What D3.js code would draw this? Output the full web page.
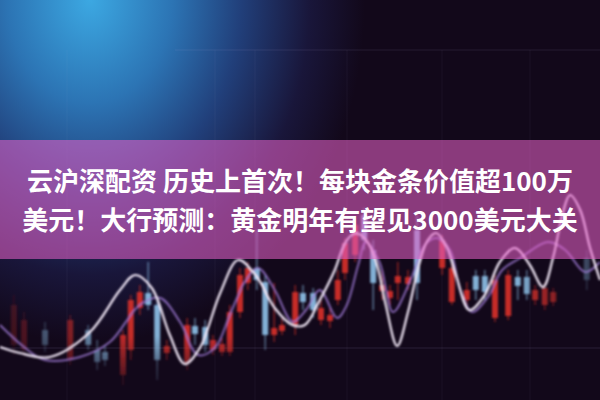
<!DOCTYPE html>
<html><head><meta charset="utf-8">
<script src="https://cdn.jsdelivr.net/npm/d3@7"></script>
<style>html,body{margin:0;padding:0;background:#14091a;}svg{display:block}</style>
</head><body>
<svg id="c" width="600" height="400"></svg>
<script>
// ---- data ----
const titleLines = ["云沪深配资 历史上首次！每块金条价值超100万", "美元！大行预测：黄金明年有望见3000美元大关"];
const candleT = [2.3,4.0,7.5,11.7,14.7,16.2,17.5,20.5,21.8,23.3,24.7,26.2,27.8,31.2,32.5,34.2,35.5,37,38.3,40,41.3,42.8,44.2,45.7,47,49.2,50.5,52.2,53.5,55,56.3,57.5,59.2,60.7,62.2,63.7,65,66.3,68,69.5,73.7,75.3,77.8,79.3,80.8,82.5,84.7,86.3,87.8,89.2,90.8,92.2,97.8];
const candleOpen = [27.5,25,35,20,35,25,24,12.5,25,46,53.5,47.5,23.5,18.5,37,36.5,25,24,24,44,58.5,66,59,32.5,34.5,37.5,53.5,53.5,40,39.5,50,63.5,72.5,92.5,75,54.5,51,58.5,58,85,66,49,50,62,62,41,42,61.5,61.5,50,47.5,49,71];
const candleClose = [47.5,40,27.5,40,27.5,19,20,32.5,50,54,47.5,20,27,37.5,33,27.5,30,28,44,62.5,66,60,32.5,36,37.5,54,49,45,46,42.5,60,78.5,87.5,80,58.5,57.5,54.5,62,61.5,58.5,80,66,55,55,54,60,62.5,57,53,55,56,54,60];
const candleHigh = [52.5,44,39,42.5,37.5,30,27.5,35,52.5,57.5,69,50,30,41,41,40,32.5,31,47.5,66,69,85,62.5,58.5,41,57.5,57.5,56,50,46,65,81,91,96,80,65,57.5,69,65,92.5,82.5,70,59,65,65,62.5,65,65,65,57.5,58.5,56,75];
const candleLow = [22.5,22,24,17.5,25,15,17,7.5,20,42.5,45,10,20,15,27.5,24,22.5,22,22,41,55,55,25,29,32.5,32.5,45,41,37.5,36,47.5,60,69,75,45,50,47.5,50,55,50,62.5,47.5,47.5,50,50,39,40,50,50,47.5,45,47,55];
const whiteT = [0,3.3,8.3,15,20,22.5,25.3,28.3,30.8,33.3,36.7,39.7,42.7,45.8,48.7,50.8,53.3,55.8,57.5,59.2,61,62.7,64.3,66.2,68,69.7,71.3,72.7,74.3,76,78.2,80.8,83.3,85.8,88.3,90.5,92.2,93.8,95,96.7,98.3,100];
const whiteV = [26.5,23.5,21.5,34,55,62.5,56,32.5,18,26,53.5,70,62,46,37.5,37.5,50,65,78.5,83.5,80,69,47.5,27,44,66,80,83.5,77.5,62.5,45,52.5,69,76,67.5,56.5,71.5,93.5,102.5,95,76.5,60];
const purpleT = [0,4.2,7.5,13.3,18.3,23.3,26.7,30,33,35.8,38.3,40.8,43,45.8,48.8,51,53.3,56.2,57.8,59.7,61,63.3,65.5,68.3,70.8,72.8,75,76.7,78.7,81.2,83.7,86.7,91.3,94.2,97.5,100];
const purpleV = [37.5,26,20,21.5,29,47.5,51,39,22.5,26,42.5,59,66,55,39,45,55,41,47.5,67.5,79,68.5,44,59,77.5,81,75,55,44,51,65,71,79,75,64,69];

// ---- setup ----
const W = 600, H = 400;
const svg = d3.select("#c");
const x = d3.scaleLinear().domain([0, 100]).range([0, W]);
const y = d3.scaleLinear().domain([0, 100]).range([400, 200]);
const defs = svg.append("defs");

const rg = defs.append("radialGradient").attr("id","bgBlue").attr("gradientUnits","userSpaceOnUse")
  .attr("cx",90).attr("cy",0).attr("r",275).attr("gradientTransform","translate(90,0) scale(1,1.25) translate(-90,0)");
[[0,"#3ca8e2"],[0.3,"#2c74b4"],[0.55,"#213f7a"],[0.8,"#19163a"],[1,"#12081a"]].forEach(s=>rg.append("stop").attr("offset",s[0]).attr("stop-color",s[1]));

const fadeH = defs.append("linearGradient").attr("id","fadeH").attr("x1",0).attr("x2",1).attr("y1",0).attr("y2",0);
[[0,"#2a2a2a"],[0.22,"#ffffff"],[0.86,"#ffffff"],[1,"#404040"]].forEach(s=>fadeH.append("stop").attr("offset",s[0]).attr("stop-color",s[1]));
const fadeV = defs.append("linearGradient").attr("id","fadeV").attr("x1",0).attr("x2",0).attr("y1",0).attr("y2",1);
[[0,"#ffffff"],[0.84,"#ffffff"],[0.95,"#555555"],[1,"#333333"]].forEach(s=>fadeV.append("stop").attr("offset",s[0]).attr("stop-color",s[1]));
defs.append("mask").attr("id","mH").attr("maskUnits","userSpaceOnUse").attr("x",0).attr("y",0).attr("width",W).attr("height",H)
  .append("rect").attr("width",W).attr("height",H).attr("fill","url(#fadeH)");
defs.append("mask").attr("id","mV").attr("maskUnits","userSpaceOnUse").attr("x",0).attr("y",0).attr("width",W).attr("height",H)
  .append("rect").attr("width",W).attr("height",H).attr("fill","url(#fadeV)");
defs.append("filter").attr("id","soft").attr("x",-0.05).attr("y",-0.05).attr("width",1.1).attr("height",1.1)
  .append("feGaussianBlur").attr("stdDeviation",0.85);

// background
svg.append("rect").attr("width",W).attr("height",H).attr("fill","#12081a");
svg.append("rect").attr("width",W).attr("height",H).attr("fill","url(#bgBlue)");

// faint grid
const grid = svg.append("g").attr("stroke","#b8a8e0").attr("stroke-width",1);
grid.append("line").attr("x1",175).attr("x2",W).attr("y1",50).attr("y2",50).attr("stroke-opacity",0.12);
grid.append("line").attr("x1",0).attr("x2",W).attr("y1",348).attr("y2",348).attr("stroke-opacity",0.14);
[67,215,255,347,442,530].forEach(v=>grid.append("line").attr("x1",v).attr("x2",v).attr("y1",50).attr("y2",H).attr("stroke-opacity",0.06));

// chart
const chart = svg.append("g").attr("filter","url(#soft)");
const candles = chart.append("g").attr("mask","url(#mV)").append("g").attr("mask","url(#mH)").attr("opacity",0.88);
const data = candleT.map((t,i)=>({t, o:candleOpen[i], c:candleClose[i], h:candleHigh[i], l:candleLow[i]}));
const col = d => d.c >= d.o ? "#e0322c" : "#92c8f0";
const cg = candles.selectAll("g").data(data).join("g");
cg.append("line").attr("x1",d=>x(d.t)).attr("x2",d=>x(d.t)).attr("y1",d=>y(d.h)).attr("y2",d=>y(d.l))
  .attr("stroke",col).attr("stroke-width",1.2).attr("stroke-opacity",0.8);
cg.append("rect").attr("x",d=>x(d.t)-3).attr("width",6)
  .attr("y",d=>y(Math.max(d.o,d.c))).attr("height",d=>Math.max(2,Math.abs(y(d.o)-y(d.c))))
  .attr("fill",col);

const line = d3.line().x(d=>x(d[0])).y(d=>y(d[1])).curve(d3.curveCatmullRom.alpha(0.5));
chart.append("path").attr("d",line(purpleT.map((t,i)=>[t,purpleV[i]])))
  .attr("fill","none").attr("stroke","#9c78d2").attr("stroke-width",2).attr("stroke-opacity",0.8);
chart.append("path").attr("d",line(whiteT.map((t,i)=>[t,whiteV[i]])))
  .attr("fill","none").attr("stroke","#f3e9f8").attr("stroke-width",2.2);

// banner
svg.append("rect").attr("x",0).attr("y",140).attr("width",W).attr("height",119)
  .attr("fill","#e25ec4").attr("fill-opacity",0.58);

const tg = svg.append("g").attr("font-family","'Noto Sans CJK SC','Noto Sans',sans-serif")
  .attr("font-weight",700).attr("font-size",26).attr("fill","#ffffff").attr("text-anchor","middle");
tg.selectAll("text").data(titleLines).join("text")
  .attr("x",300).attr("y",(d,i)=>191+i*39).text(d=>d);
</script>
</body></html>
